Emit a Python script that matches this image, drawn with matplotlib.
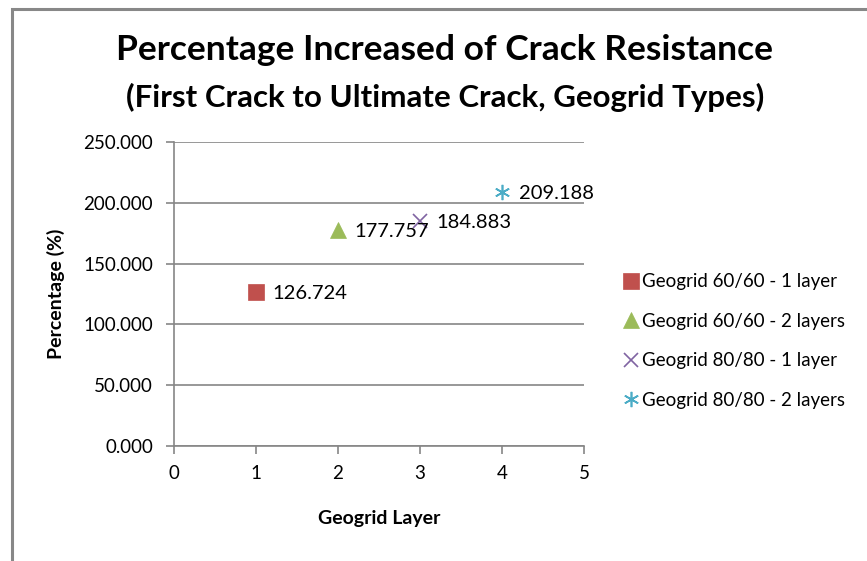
import matplotlib.pyplot as plt
from matplotlib.patches import Rectangle

plt.rcParams['font.family'] = ['Lato', 'DejaVu Sans']

layers = [1, 2, 3, 4]
percentages = [126.724, 177.757, 184.883, 209.188]
series_names = ['Geogrid 60/60 - 1 layer', 'Geogrid 60/60 - 2 layers',
                'Geogrid 80/80 - 1 layer', 'Geogrid 80/80 - 2 layers']
colors = ['#C0504D', '#9BBB59', '#8064A2', '#4BACC6']
markers = ['s', '^', 'x', (6, 2, 0)]
sizes = [11, 11, 10, 11]

fig = plt.figure(figsize=(8.67, 5.61), dpi=100)
fig.patches.append(Rectangle((12 / 867, -0.1), 1.2, 1.1 - 9 / 561, transform=fig.transFigure,
                             fill=False, edgecolor='#888888', linewidth=2.2, zorder=-1))

ax = fig.add_axes([0.2007, 0.2050, 0.4729, 0.5419])

for x, y, name, c, m, s in zip(layers, percentages, series_names, colors, markers, sizes):
    ax.plot([x], [y], linestyle='none', marker=m, markersize=s, color=c,
            markeredgewidth=1.2 if m in ('x', (6, 2, 0)) else 0.5, label=name, clip_on=False)
    ax.annotate(f'{y:.3f}', (x, y), xytext=(12, -1), textcoords='offset points',
                va='center', ha='left', fontsize=14.5)

ax.set_xlim(0, 5)
ax.set_ylim(0, 250)
ax.set_yticks(range(0, 251, 50))
ax.set_yticklabels([f'{v:.3f}' for v in range(0, 251, 50)])
ax.set_xticks(range(0, 6))
ax.grid(axis='y', color='#868686', linewidth=1.2)
ax.set_axisbelow(True)
for side in ['top', 'right']:
    ax.spines[side].set_visible(False)
for side in ['left', 'bottom']:
    ax.spines[side].set_color('#868686')
    ax.spines[side].set_linewidth(1.2)
ax.tick_params(axis='both', colors='#868686', labelcolor='black', labelsize=13.5, length=6, width=1.2)
ax.tick_params(axis='y', pad=9)
ax.tick_params(axis='x', pad=8)

ax.set_xlabel('Geogrid Layer', fontsize=14, fontweight='bold', labelpad=20)
ax.set_ylabel('Percentage (%)', fontsize=14, fontweight='bold', labelpad=13)

fig.text(0.513, 0.911, 'Percentage Increased of Crack Resistance', ha='center', va='center',
         fontsize=25.5, fontweight='bold')
fig.text(0.513, 0.827, '(First Crack to Ultimate Crack, Geogrid Types)', ha='center', va='center',
         fontsize=22.5, fontweight='bold')

ax.legend(loc='center left', bbox_to_anchor=(0.71, (561 - 341) / 561),
          bbox_transform=fig.transFigure, frameon=False, fontsize=13.5,
          handlelength=0.8, handletextpad=0.2, labelspacing=1.2, borderaxespad=0)

fig.savefig('out.png', dpi=100)
